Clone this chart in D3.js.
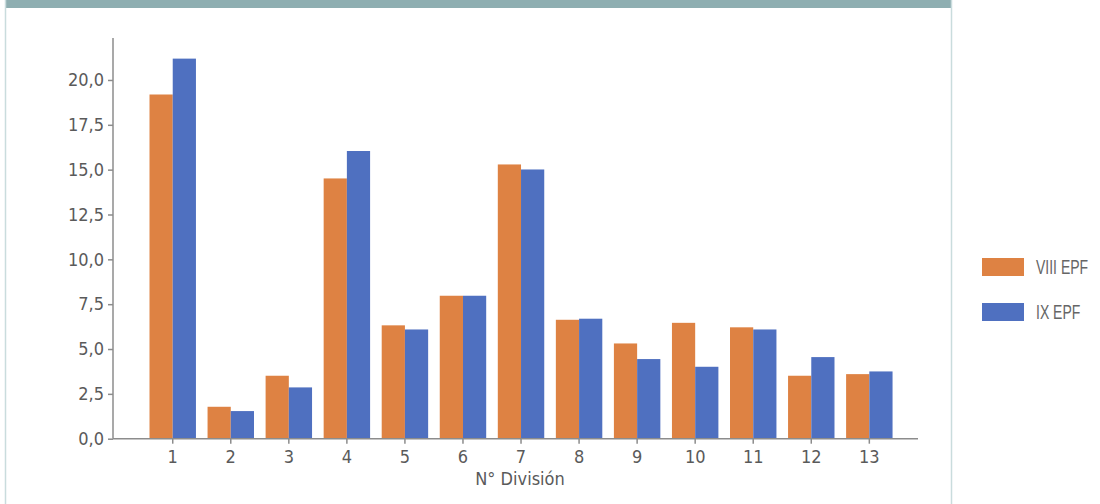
<!DOCTYPE html>
<html>
<head>
<meta charset="utf-8">
<script src="https://cdn.jsdelivr.net/npm/d3@7"></script>
<style>
  html, body { margin: 0; padding: 0; background: #ffffff; }
  svg { display: block; }
</style>
</head>
<body>
<svg id="chart" width="1100" height="504"></svg>
<script>
const categories = ["1","2","3","4","5","6","7","8","9","10","11","12","13"];
const seriesNames = ["VIII EPF", "IX EPF"];
const viiiValues = [19.19, 1.78, 3.51, 14.51, 6.32, 7.97, 15.29, 6.63, 5.31, 6.46, 6.21, 3.51, 3.60];
const ixValues   = [21.19, 1.54, 2.86, 16.04, 6.09, 7.97, 15.01, 6.69, 4.44, 4.01, 6.09, 4.55, 3.75];
const yTickValues = [0, 2.5, 5, 7.5, 10, 12.5, 15, 17.5, 20];
const xAxisTitle = "N° División";

const colors = ["#de8243", "#4f70c0"];
const seriesValues = [viiiValues, ixValues];

const svg = d3.select("#chart");

// frame
svg.append("rect").attr("x", 5).attr("y", 0).attr("width", 947).attr("height", 8).attr("fill", "#8eaeb1");
svg.append("line").attr("x1", 5.5).attr("x2", 5.5).attr("y1", 0).attr("y2", 504).attr("stroke", "#c9dcdd").attr("stroke-width", 1.5);
svg.append("line").attr("x1", 951.5).attr("x2", 951.5).attr("y1", 0).attr("y2", 504).attr("stroke", "#c9dcdd").attr("stroke-width", 1.5);

const locale = d3.formatLocale({decimal: ",", thousands: ".", grouping: [3], currency: ["", ""]});
const fmt = locale.format(".1f");

const x0 = d3.scaleBand().domain(categories).range([143.7, 898.35]).paddingInner(0.2).paddingOuter(0.1);
const x1 = d3.scaleBand().domain(seriesNames).range([0, x0.bandwidth()]);
const y = d3.scaleLinear().domain([0, 22.34]).range([438.7, 38]);

const font = "'DejaVu Sans Condensed', 'DejaVu Sans', sans-serif";
const axisColor = "#8c8c8c";
const textColor = "#5a5a5a";

// bars
seriesNames.forEach((s, si) => {
  svg.append("g").selectAll("rect").data(categories).join("rect")
    .attr("x", (c) => x0(c) + x1(s))
    .attr("y", (c, i) => y(seriesValues[si][i]))
    .attr("width", x1.bandwidth())
    .attr("height", (c, i) => y(0) - y(seriesValues[si][i]))
    .attr("fill", colors[si]);
});

// y axis
const yAxis = svg.append("g").attr("transform", "translate(113,0)")
  .call(d3.axisLeft(y).tickValues(yTickValues).tickFormat(fmt).tickSize(5).tickPadding(4));
yAxis.select(".domain").attr("d", `M0,${y.range()[1]}V${y(0)}`);

// x axis
const xAxis = svg.append("g").attr("transform", `translate(0,${y(0)})`)
  .call(d3.axisBottom(x0).tickSize(5).tickPadding(5));
xAxis.select(".domain").attr("d", "M113,0H918");

[yAxis, xAxis].forEach(a => {
  a.select(".domain").attr("stroke", axisColor).attr("stroke-width", 1.5);
  a.selectAll(".tick line").attr("stroke", axisColor).attr("stroke-width", 1.5);
  a.selectAll(".tick text").attr("fill", textColor).style("font-family", font).style("font-size", "18px");
});
xAxis.selectAll(".tick text").attr("dy", "0.8em");

svg.append("text").attr("x", 520).attr("y", 485).attr("text-anchor", "middle")
  .attr("fill", textColor).style("font-family", font).style("font-size", "18px")
  .text(xAxisTitle);

// legend
const leg = svg.append("g");
seriesNames.forEach((s, i) => {
  const yy = 258 + i * 45;
  leg.append("rect").attr("x", 982).attr("y", yy).attr("width", 42).attr("height", 18).attr("fill", colors[i]);
  leg.append("text")
    .attr("transform", `translate(1036,${yy + 15.5}) scale(0.7,1)`)
    .attr("fill", "#666")
    .style("font-family", "'Liberation Sans', Arial, sans-serif").style("font-size", "20px")
    .text(s);
});
</script>
</body>
</html>
